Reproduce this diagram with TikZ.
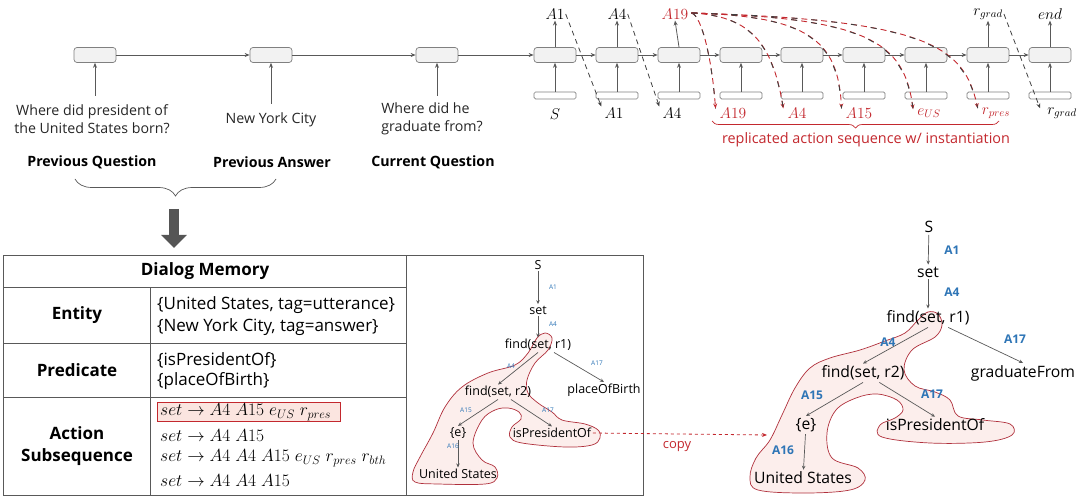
\RequirePackage{fix-cm}
\documentclass[tikz,border=0pt]{standalone}
\usepackage{fontspec}
\setmainfont{Open Sans}
\usetikzlibrary{arrows.meta,decorations.pathreplacing,calc}
\definecolor{cellfill}{HTML}{F2F2F2}
\definecolor{cellline}{HTML}{808080}
\definecolor{arrgray}{HTML}{595959}
\definecolor{myred}{HTML}{C3282E}
\definecolor{blobfill}{HTML}{FCEEEC}
\definecolor{blobline}{HTML}{B0303C}
\definecolor{lblue}{HTML}{2E75B6}
\definecolor{hlfill}{HTML}{FBE5E0}
\tikzset{
 cell/.style={draw=cellline, fill=cellfill, rounded corners=3pt, minimum width=42pt, minimum height=15pt, inner sep=0pt, line width=0.7pt},
 inbox/.style={draw=cellline, fill=white, rounded corners=1.5pt, minimum width=42pt, minimum height=7pt, inner sep=0pt, line width=0.7pt},
 arr/.style={draw=arrgray, line width=0.8pt, -{Stealth[length=5pt,width=4pt]}},
 mlab/.style={font=\fontsize{15.5}{17}\selectfont, inner sep=1pt},
 rlab/.style={mlab, text=myred},
 qtext/.style={font=\fontsize{14.2}{18}\selectfont, align=center, text=black!85, inner sep=1pt},
 head/.style={font=\fontsize{14.2}{16}\selectfont\bfseries},
 bdash/.style={draw=black!75, line width=0.8pt, dash pattern=on 5pt off 4pt},
 rdasha/.style={draw=myred, line width=0.9pt, dash pattern=on 6pt off 4pt, -{Stealth[length=5pt,width=4pt]}},
 rdashb/.style={draw=black!75, line width=0.9pt, dash pattern=on 6pt off 14pt},
 tline/.style={draw=black!65, line width=0.9pt},
 ttext/.style={font=\fontsize{17}{20}\selectfont, inner sep=0pt},
 mtext/.style={font=\fontsize{17.5}{20}\selectfont, inner sep=0pt},
 thead/.style={font=\fontsize{17}{22}\selectfont\bfseries, align=center},
 smalln/.style={font=\fontsize{12.5}{14}\selectfont, inner sep=1.5pt},
 smalll/.style={font=\fontsize{6.5}{7}\selectfont, text=lblue, inner sep=0pt},
 bign/.style={font=\fontsize{15.7}{18}\selectfont, inner sep=2pt},
 bigl/.style={font=\fontsize{12}{14}\selectfont\bfseries, text=lblue, inner sep=0pt},
 tarr/.style={draw=arrgray, line width=0.7pt, -{Stealth[length=4pt,width=3.5pt]}},
 blob/.style={draw=blobline, fill=blobfill, line width=0.7pt},
}
\begin{document}
\begin{tikzpicture}[x=1pt,y=-1pt]
\useasboundingbox (0,0) rectangle (1080,500);
% ---------- RNN cells ----------
\foreach \i/\x in {1/95,2/271,3/437,4/555,5/617,6/679,7/741,8/802,9/864,10/926,11/988,12/1050}
  \node[cell] (c\i) at (\x,55) {};
\foreach \i/\x in {4/555,5/617,6/679,7/741,8/802,9/864,10/926,11/988,12/1050}{
  \node[inbox] (in\i) at (\x,95.5) {};
  \draw[arr] (in\i.north) -- (c\i.south);
}
\foreach \a/\b in {1/2,2/3,3/4,4/5,5/6,6/7,7/8,8/9,9/10,10/11,11/12}
  \draw[arr] (c\a.east) -- (c\b.west);
% output labels
\node[mlab] (o4) at (555,14) {$A1$};
\node[mlab] (o5) at (617,14) {$A4$};
\node[rlab] (o6) at (675,14) {$A19$};
\node[mlab] (o11) at (988,14) {$r_{grad}$};
\node[mlab] (o12) at (1050,14) {$end$};
\foreach \i in {4,5,6,11,12} \draw[arr] (c\i.north) -- (o\i.south);
% input labels
\node[mlab] (b4) at (555,114) {$S$};
\node[mlab] (b5) at (614,113) {$A1$};
\node[mlab] (b6) at (672,113) {$A4$};
\node[rlab] (b7) at (733,113) {$A19$};
\node[rlab] (b8) at (797,113) {$A4$};
\node[rlab] (b9) at (859,113) {$A15$};
\node[rlab] (b10) at (929,113) {$e_{US}$};
\node[rlab] (b11) at (996,113) {$r_{pres}$};
\node[mlab] (b12) at (1062,113) {$r_{grad}$};
% black dashed copies
\draw[bdash,-{Stealth[length=5pt,width=4pt]}] (o4.east) -- ($(b5.north west)+(-2,0)$);
\draw[bdash,-{Stealth[length=5pt,width=4pt]}] (o5.east) -- ($(b6.north west)+(-2,0)$);
\draw[bdash,-{Stealth[length=5pt,width=4pt]}] (o11.east) -- ($(b12.north west)+(-6,2)$);
% replicated dashed curves
\coordinate (st) at ($(o6.east)+(2,-1)$);
\foreach \t/\ca/\cb in {b7/{(702,16)}/{(712,60)}, b8/{(748,16)}/{(772,40)}, b9/{(808,16)}/{(838,40)}, b10/{(868,18)}/{(904,42)}, b11/{(928,20)}/{(964,46)}}{
  \draw[rdasha] (st) .. controls \ca and \cb .. ($(\t.north west)+(-3,2)$);
  \draw[rdashb] (st) .. controls \ca and \cb .. ($(\t.north west)+(-3,2)$);
}
% red brace
\draw[myred, line width=0.7pt, decorate, decoration={brace, mirror, amplitude=7pt}] (712,121) -- (999,121) coordinate[midway] (rb);
\node[font=\fontsize{14.4}{16}\selectfont, text=myred] (rbt) at (866,140) {replicated action sequence w/ instantiation};
% ---------- left texts ----------
\node[qtext] (q1) at (92,119) {Where did president of\\the United States born?};
\node[qtext] (q2) at (271,120) {New York City};
\node[qtext, align=left] (q3) at (432,119) {Where did he\\graduate from?};
\draw[arr] (95,96) -- (c1.south);
\draw[arr] (271,104) -- (c2.south);
\draw[arr] (437,96) -- (c3.south);
\node[head] (h1) at (92,162) {Previous Question};
\node[head] (h2) at (272,162) {Previous Answer};
\node[head] (h3) at (433,162) {Current Question};
\draw[arrgray, line width=0.7pt, decorate, decoration={brace, mirror, amplitude=17pt}] (75,179) -- (276,179);
\coordinate (ba) at (174,209);
\coordinate (bb) at (174,248);
\draw[arrgray!95!black, line width=10pt, -{Triangle[length=13pt,width=25pt]}] (ba) -- (bb);
% ---------- table ----------
\draw[tline] (3,255) rectangle (643,495);
\draw[tline] (406,255) -- (406,495);
\draw[tline] (3,287) -- (406,287);
\draw[tline] (3,343) -- (406,343);
\draw[tline] (3,397) -- (406,397);
\draw[tline] (150,287) -- (150,495);
\node[thead] (dm) at (205,271) {Dialog Memory};
\node[thead] (en) at (77,315) {Entity};
\node[thead] (pr) at (77,370) {Predicate};
\node[thead] (as) at (77,446) {Action\\Subsequence};
\node[ttext, anchor=west] (e1) at (157,305) {\{United States, tag=utterance\}};
\node[ttext, anchor=west] (e2) at (157,327) {\{New York City, tag=answer\}};
\node[ttext, anchor=west] (p1) at (157,360) {\{isPresidentOf\}};
\node[ttext, anchor=west] (p2) at (157,381) {\{placeOfBirth\}};
\draw[draw=myred, fill=hlfill, line width=0.8pt] (157,402) rectangle (340,421);
\node[mtext, anchor=west] (s1) at (160,412) {$set \rightarrow A4\;A15\;e_{US}\;r_{pres}$};
\node[mtext, anchor=west] (s2) at (160,436) {$set \rightarrow A4\;A15$};
\node[mtext, anchor=west] (s3) at (160,458) {$set \rightarrow A4\;A4\;A15\;e_{US}\;r_{pres}\;r_{bth}$};
\node[mtext, anchor=west] (s4) at (160,481) {$set \rightarrow A4\;A4\;A15$};
% ---------- small tree ----------
\filldraw[blob] plot[smooth cycle, tension=0.6] coordinates {(545,333) (552,338) (548,350) (535,363) (527,380) (528,393) (538,403) (552,412) (562,420) (585,424) (598,430) (600,438) (592,445) (565,447) (522,443) (510,437) (512,427) (521,419) (519,412) (508,408) (495,410) (482,420) (473,443) (482,460) (495,467) (497,478) (485,484) (438,484) (415,482) (413,472) (420,457) (433,433) (445,407) (462,387) (488,373) (515,365) (528,353) (537,338)};
\node[smalln] (sS) at (538,265) {S};
\node[smalln] (sset) at (538,310) {set};
\node[smalln] (sf1) at (538,345) {find(set, r1)};
\node[smalln] (sf2) at (498,392) {find(set, r2)};
\node[smalln] (spb) at (604,390) {placeOfBirth};
\node[smalln] (se) at (458,433) {\{e\}};
\node[smalln] (sip) at (552,433) {isPresidentOf};
\node[smalln] (sus) at (458,474) {United States};
\draw[tarr] (sS) -- (sset);
\draw[tarr] (sset) -- (sf1);
\draw[tarr] (sf1.south) -- (sf2.north);
\draw[tarr] (sf1.-25) -- (spb.north);
\draw[tarr] (sf2.south) -- (se.north);
\draw[tarr] (sf2.-30) -- (sip.north);
\draw[tarr] (se) -- (sus);
\node[smalll] at (553,287) {A1};
\node[smalll] at (553,324) {A4};
\node[smalll] at (511,366) {A4};
\node[smalll] at (597,363) {A17};
\node[smalll] at (466,410) {A15};
\node[smalll] at (548,410) {A17};
\node[smalll] at (453,446) {A16};
% ---------- big tree ----------
\filldraw[blob] plot[smooth cycle, tension=0.6] coordinates {(938,314) (928,312) (918,320) (905,333) (885,341) (860,350) (830,358) (810,368) (795,388) (782,415) (770,440) (756,458) (750,477) (758,490) (805,493) (850,490) (865,480) (858,468) (832,458) (827,433) (836,410) (856,398) (877,394) (897,400) (903,410) (895,418) (880,425) (882,437) (930,443) (985,442) (1012,435) (1010,424) (983,420) (958,416) (950,400) (935,392) (915,386) (904,370) (912,350) (935,337) (942,325)};
\node[bign] (S) at (929,227) {S};
\node[bign] (set) at (928,272) {set};
\node[bign] (f1) at (928,318) {find(set, r1)};
\node[bign] (f2) at (863,373) {find(set, r2)};
\node[bign] (gf) at (1023,373) {graduateFrom};
\node[bign] (e) at (806,425) {\{e\}};
\node[bign] (ip) at (935,425) {isPresidentOf};
\node[bign] (us) at (803,478) {United States};
\draw[tarr] (S) -- (set);
\draw[tarr] (set) -- (f1);
\draw[tarr] (f1.south) -- (f2.north);
\draw[tarr] (f1.-25) -- (gf.north);
\draw[tarr] (f2.south) -- (e.north);
\draw[tarr] (f2.-30) -- (ip.north);
\draw[tarr] (e) -- (us);
\node[bigl] at (952,250) {A1};
\node[bigl] at (952,292) {A4};
\node[bigl] at (888,342) {A4};
\node[bigl] at (1015,339) {A17};
\node[bigl] at (812,395) {A15};
\node[bigl] at (932,394) {A17};
\node[bigl] at (783,450) {A16};
% copy arrow
\coordinate (cpend) at (767,435);
\draw[myred, dashed, line width=0.8pt, -{Stealth[length=5pt,width=4pt]}] (sip.east) -- (cpend);
\node[font=\fontsize{13}{15}\selectfont, text=myred] (cp) at (677,447) {copy};
\end{tikzpicture}
\end{document}
